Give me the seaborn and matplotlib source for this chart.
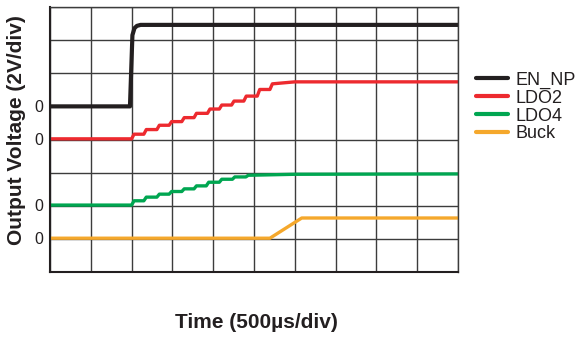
import numpy as np
import pandas as pd
import matplotlib
matplotlib.use("Agg")
import matplotlib.pyplot as plt
import seaborn as sns

# all values in scope divisions (10 x 8 grid)
signals = ["EN_NP", "LDO2", "LDO4", "Buck"]
colors = ["#231f20", "#ed2a2f", "#00a651", "#f5a82c"]
widths = [3.0, 2.4, 2.4, 2.4]

# EN_NP: fast edge
en_t = [0.0, 1.96, 2.02, 2.07, 2.13, 2.22, 10.0]
en_v = [5.0, 5.0, 7.15, 7.36, 7.43, 7.46, 7.46]

# LDO2: staircase
ldo2_step_t = [2.00, 2.30, 2.62, 2.92, 3.23, 3.53, 3.86, 4.15, 4.45, 4.75, 5.08, 5.39]
ldo2_levels = [4.02, 4.16, 4.30, 4.43, 4.54, 4.66, 4.79, 4.92, 5.04, 5.16, 5.31, 5.51, 5.68]
ldo2_tail_t = [6.0, 10.0]
ldo2_tail_v = [5.74, 5.74]

# LDO4: staircase
ldo4_step_t = [2.00, 2.30, 2.62, 2.92, 3.23, 3.53, 3.83, 4.15, 4.47, 4.80]
ldo4_levels = [2.02, 2.15, 2.26, 2.35, 2.43, 2.51, 2.60, 2.71, 2.80, 2.87, 2.92]
ldo4_tail_t = [6.0, 10.0]
ldo4_tail_v = [2.95, 2.96]

# Buck: soft-start ramp
buck_t = [0.0, 5.39, 6.17, 10.0]
buck_v = [1.02, 1.02, 1.63, 1.63]

zero_levels = [5.0, 4.02, 2.02, 1.02]


def staircase(step_t, levels, tail_t, tail_v, rise=0.06):
    t = [0.0]
    v = [levels[0]]
    for st, a, b in zip(step_t, levels[:-1], levels[1:]):
        t += [st, st + rise]
        v += [a, b]
    return t + tail_t, v + tail_v


traces = {
    "EN_NP": (en_t, en_v),
    "LDO2": staircase(ldo2_step_t, ldo2_levels, ldo2_tail_t, ldo2_tail_v),
    "LDO4": staircase(ldo4_step_t, ldo4_levels, ldo4_tail_t, ldo4_tail_v),
    "Buck": (buck_t, buck_v),
}

rows = []
for name in signals:
    t, v = traces[name]
    for a, b in zip(t, v):
        rows.append({"signal": name, "t": a, "v": b})
df = pd.DataFrame(rows)

sns.set_style("white")
plt.rcParams["font.family"] = ["Liberation Sans", "DejaVu Sans"]
txt = "#231f20"

fig = plt.figure(figsize=(5.77, 3.37), dpi=100)
ax = fig.add_axes([50 / 577, 1 - 272 / 337, 408 / 577, 265 / 337])

for name, col, lw in zip(signals, colors, widths):
    sns.lineplot(data=df[df.signal == name], x="t", y="v", color=col,
                 linewidth=lw, estimator=None, sort=False, label=name, ax=ax)

ax.set_xlim(0, 10)
ax.set_ylim(0, 8)
ax.set_xticks(range(11))
ax.set_xticklabels([])
ax.set_yticks(range(9), minor=True)
ax.set_yticks(zero_levels)
ax.set_yticklabels(["0"] * len(zero_levels), fontsize=11.5, color=txt)
ax.tick_params(axis="both", which="both", length=0)
ax.tick_params(axis="y", pad=5)
ax.grid(False)
ax.grid(True, which="major", axis="x", color="#3c3c3c", linewidth=1.0)
ax.grid(True, which="minor", axis="y", color="#3c3c3c", linewidth=1.0)
ax.set_axisbelow(True)
for side in ["top", "right"]:
    ax.spines[side].set_color("#3c3c3c")
    ax.spines[side].set_linewidth(1.0)
for side in ["left", "bottom"]:
    ax.spines[side].set_color("#231f20")
    ax.spines[side].set_linewidth(1.5)
ax.set_xlabel("")
ax.set_ylabel("")

fig.text(17 / 577, 1 - 130 / 337, "Output Voltage (2V/div)", rotation=90,
         ha="center", va="center", fontsize=15, fontweight="bold", color=txt)
fig.text(256 / 577, 1 - 323 / 337, "Time (500µs/div)",
         ha="center", va="center", fontsize=15, fontweight="bold", color=txt)

leg = ax.legend(loc="center left", bbox_to_anchor=(476 / 577, 1 - 107 / 337),
                bbox_transform=fig.transFigure, frameon=False, fontsize=13,
                handlelength=1.75, handletextpad=0.45, labelspacing=0.05,
                borderpad=0, borderaxespad=0)
for h in leg.get_lines():
    h.set_linewidth(3.0)
for t in leg.get_texts():
    t.set_color(txt)

fig.savefig("out.png", dpi=100)
